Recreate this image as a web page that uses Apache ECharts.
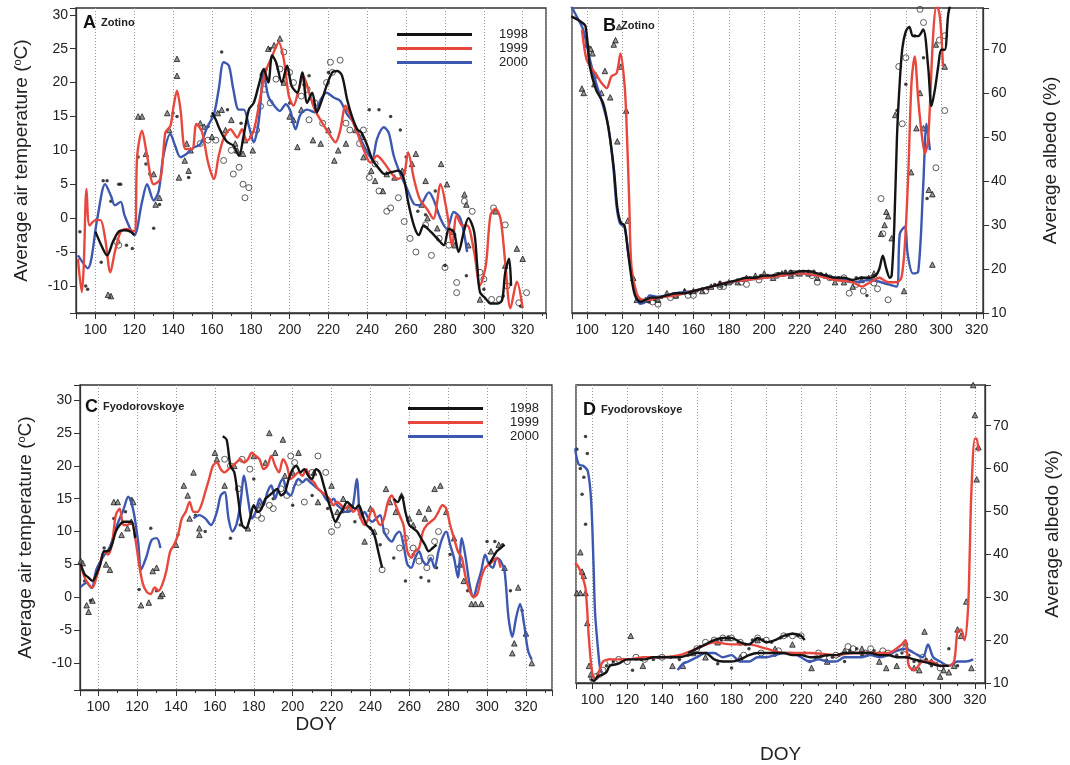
<!DOCTYPE html>
<html><head><meta charset="utf-8">
<script src="https://cdn.jsdelivr.net/npm/echarts@6/dist/echarts.min.js"></script>
<style>html,body{margin:0;padding:0;background:#fff}#chart{width:1070px;height:765px}</style>
</head><body><div id="chart"></div>
<script>
const years = ['1998', '1999', '2000'];
const yearColors = ['#141414', '#e8473d', '#3d58b0'];

// Panel A: Zotino air temperature (DOY, deg C)
const aLine1998 = [[100,-2],[103,-4],[106,-5.5],[109,-3.5],[112,-2],[115,-1.8],[118,-2],[120,-2.5],[121,null],[160,15.6],[162,14.5],[164,13.1],[166,12],[168,11.2],[171,10.7],[174,9.2],[176,11.7],[179,16],[181.5,17],[184,19.5],[186.7,22],[189,20],[191,24],[193,23],[196,20],[198.7,22.5],[201,19.5],[204,18.5],[206.5,21.5],[209,17],[211.6,18.5],[214,15.6],[216.7,17.5],[219,19.5],[222,21.5],[224.5,21.7],[227,21],[229.6,17.5],[232,15.1],[234.8,13.1],[237,12.6],[240,10.7],[242.5,8.7],[246,7.3],[249,6.5],[252.6,6.8],[256,7],[258.8,5.8],[261,2.4],[264,-1.1],[266.5,-2.5],[269,-1.1],[272.6,-2],[276,-3],[279.4,-4],[282,-1.6],[284.5,-2],[287,-5],[289.7,-2],[292,0],[295,-2],[296.6,-7],[298,-10.9],[301,-11.9],[303.4,-12.6],[306.9,-12.6],[309.4,-12.1],[311,-8],[313,-6],[314,-10]];
const aLine1999 = [[91,-6],[93,-10.9],[94,-7],[95.4,4.3],[97,-1.1],[100,-0.3],[102.6,-0.3],[105,-3],[107.7,-8],[110,-5],[113,-2],[116,-1.6],[120,-2],[121.5,9.2],[124,12.9],[126.6,9.2],[130,5],[133.5,5.8],[136,12.6],[138.6,13.6],[140.3,16.6],[142,18.8],[143.8,16],[146.4,10.2],[149.8,10.2],[152,13.9],[155,12.6],[158,8.2],[161,5.8],[163.5,9.2],[166,11.7],[169.5,13.1],[173,11.9],[175.5,13.1],[178,11.4],[181.5,12.9],[185,18],[187.5,21.5],[191,23.9],[194.4,25.9],[197,23.4],[199.6,18],[202,16.6],[204.7,19],[207,21],[210,18.5],[213,16],[216.7,14.1],[220,12.6],[223.6,11.2],[226,12.9],[228.8,16.6],[231,15.3],[234.8,12.6],[238,10.2],[241.6,8.2],[245,9.2],[248.5,8.2],[252,6.8],[255.4,5.8],[258.8,6.3],[261,9.7],[264,5.8],[267,2.8],[270.8,1.3],[274,-0.1],[277.7,5],[281,0.9],[283.7,-4],[286,0.4],[288.8,-1.1],[291.4,-1.1],[295,-5],[298,-9.9],[301,-7],[303.4,0.4],[306,1.4],[308.6,-0.1],[311,-6.5],[313.7,-13.3],[317,-9.4],[320,-13.3]];
const aLine2000 = [[91,-5.5],[96,-7.4],[101,0],[105,5],[108,3.3],[110,1.9],[113,2.4],[115,0.4],[120,-2.5],[124,2.4],[126.6,5],[130,2.6],[132.6,4],[135,9.2],[138.6,12.4],[141,10.7],[143.8,9],[147,9.5],[150.6,10.4],[154,10.9],[157.5,13.4],[161,15.3],[163.5,19],[166,23],[168.7,22.5],[171,19],[173.8,16],[176.4,16],[179,13.6],[181.5,11.2],[184,14.1],[186.7,21.2],[189,18],[192,16.6],[195,15.8],[198,16.8],[200.4,15.8],[203,13.1],[205.6,15.3],[209,16],[213,15.6],[216,17.5],[219,18.5],[222.7,17.8],[226,17.3],[229.6,15.3],[233,14.1],[236.5,11.7],[240,9.7],[242.5,8.7],[245,11.7],[248.5,13.4],[251,12.6],[253.6,9.2],[257,6.5],[260.5,4.3],[264,2.1],[267,1.9],[271.7,3.8],[274,2.8],[277.7,-0.1],[281,-1.6],[284.5,0.9],[288,-0.1],[291.4,-5]];
const aTri = [[108,-11.5],[106.5,-11.3],[122,15],[124,15],[126,9.5],[133,3],[131,2],[130,6.5],[137,15.5],[138,13],[142,23.5],[142,21],[143,6],[146,8.5],[147,11],[148,7],[149,10],[154,14],[156,13.5],[160,12],[163,15.5],[165,16],[167,13],[170,14.5],[172,11],[173,10],[176,9.5],[177,11.5],[181,10],[186,21.5],[189,25],[192,25.5],[195,26.5],[197,20],[200,15],[202,14.5],[204,10.5],[206,16],[208,20],[212,11.5],[216,11],[220,13],[223,8.5],[225,10],[229,11],[234,13],[237,12],[238,9],[242,7],[244,5.5],[248,4],[250,6.5],[254,6],[258,7],[263,8],[265,9.5],[268,2],[270,5.5],[271,0],[276,-1.5],[278,8],[281,5],[284,-2],[285,-4],[290,3.5],[291,2],[292,-4],[298,-12],[306,1],[311,-7],[320,-6],[317,-4.5]];
const aCirc = [[112,-4],[111,-3.5],[154,11],[158,11.5],[162,11.5],[166,8.5],[170,10],[171,6.5],[174,7.5],[176,5],[177,3],[179,4.5],[183,13],[185,16.5],[187,19],[190,17],[193,20.5],[195,22],[197,24.5],[200,21.5],[202,20],[206,18],[209,19],[210,14.5],[213,17],[217,14],[219,20],[221,23],[222,21.5],[226,23.3],[229,14],[231,13],[236,11],[238,13],[241,6],[244,8],[246,4],[250,1],[252,1.5],[256,3],[259,-0.5],[262,-3],[265,-5],[270,-1],[273,-5.5],[277,-3],[280,-7.3],[282,-4],[286,-11],[286,-9.5],[290,2.5],[294,1],[298,-8],[300,-9],[304,-12],[308,-12],[311,-1],[312,-10],[318,-12.5],[322,-11],[305,1.5]];
const aDot = [[92,-2],[95,-10],[96,-10.5],[103,-6.5],[104,5.5],[106,5.5],[108,2.5],[112,5],[113,5],[116,-4],[119,-4.5],[122,9],[126,8],[128,6.5],[130,-1.5],[133,2],[140,15.5],[142,15],[148,6],[158,13.5],[160,15],[165,24.5],[168,16],[175,14],[180,12],[188,22],[190,25],[200,17],[210,21],[220,21.5],[230,16],[241,16],[246,16],[252,15],[257,13],[260,9],[266,1],[270,0.5],[275,4],[280,-7],[285,-2.5],[291,-8.5],[300,-10.5],[310,-11.5],[319,-13]];

// Panel B: Zotino albedo (DOY, %)
const bLine1998 = [[91,77.4],[96,76.3],[99,75.2],[101.5,66],[105,60.7],[109,57.7],[112,52],[115,43],[117,34],[119,30.5],[121,30],[123,24],[125,18],[127,14],[130,12.5],[133,13],[136,13.5],[140,13.5],[145,14],[150,14.5],[155,14.5],[160,15],[165,15.5],[170,16],[175,16.5],[180,17],[185,17.5],[190,18],[195,18],[200,18.5],[205,18.5],[210,19],[215,19],[220,19.5],[225,19.5],[230,19],[235,18.5],[240,18],[245,18],[250,17.5],[255,18],[260,18],[263,18.5],[265,20],[267,23],[269,20],[271,18],[272,18.5],[273.5,30],[275,50],[276.5,62],[278,70],[280,74],[282,75],[284,72.9],[287,72.9],[289.8,74.4],[292.6,66],[294.5,57],[296.4,60.7],[298.3,66],[300,69.8],[302,69.8],[304,78],[306,81]];
const bLine1999 = [[97,74.4],[99.6,67.6],[102.4,65.7],[105,64.2],[108,62.3],[111,61.1],[113.7,63.8],[116.6,64.5],[118.8,69],[121,62.3],[122,55.4],[123.7,35.7],[125,20.5],[128,14.4],[131,13],[135,13],[140,13.5],[150,14],[160,15],[170,16],[180,17],[190,17.5],[200,18],[210,18.5],[220,19],[230,18.5],[240,17.5],[250,17],[255,16],[260,17],[265,18],[270,17],[275,17],[277.6,18.2],[279.5,25.8],[281.4,41.8],[283.2,62.3],[285,68.3],[287,58.5],[288.9,50.9],[290.8,46.3],[292.6,49.4],[295.5,73.6],[297.4,80],[299,78],[300,73.6],[301,66]];
const bLine2000 = [[91,79.7],[94,77.4],[97.7,74.4],[101.5,67.6],[105,62.3],[109,57],[111.9,52.4],[114.7,43.3],[116.6,34.2],[118.5,30.4],[121,29.6],[123,24.3],[125,19],[127,14.4],[129.8,12.1],[132.6,12.5],[135.4,14],[139,13.7],[145,14],[150,14.5],[160,15],[170,16],[180,17],[190,17.5],[200,18],[210,18.5],[220,19],[230,18.5],[240,18],[250,17],[260,17.5],[270,16.5],[274.8,16],[276.6,28],[279.5,29.6],[281,23.5],[284,19],[287,19.4],[289.8,38.7],[291.7,53],[293.6,47]];
const bTri = [[97,61],[98,60],[100,71],[102,70],[103,69],[104,62],[105,64],[108,60],[110,65],[113,59],[115,71],[116,72],[118,75],[119,66],[117,49],[122,56],[123,31],[126,18],[128,13],[133,13],[140,13],[150,14],[160,15],[170,16],[180,17],[190,18],[200,19],[210,19],[220,19],[230,18],[240,17],[250,16],[259,18],[262,19],[266,28],[268,30],[269,33],[270,32],[272,27],[274,55],[279,15],[283,42],[286,52],[288,60],[290,52],[293,38],[295,37],[295,21],[297,71],[302,66],[135,13.5],[145,14.5],[155,15],[165,15],[175,16.5],[185,17],[195,18.5],[205,18],[215,18.5],[225,19],[235,18.5],[245,17],[255,17.5]];
const bCirc = [[248,14.5],[256,15],[262,16.8],[264,15.5],[266,36],[267,28],[270,13],[276,66],[278,53],[280,68],[285,80],[288,79],[290,76],[297,43],[299,72],[302,56],[302,73],[306,80],[140,12],[150,14],[160,14],[175,16],[190,16.5],[215,19],[230,17],[245,18],[137,12.5],[147,13.5],[157,14],[167,15],[177,16],[187,17],[197,17.5],[207,18.5],[217,19],[227,18.5],[237,18],[252,16.5]];
const bDot = [[120,30],[130,13],[135,12.5],[145,14],[155,15],[165,15.5],[175,17],[185,17.5],[195,18],[205,18.5],[215,19.5],[225,19.5],[235,18.5],[245,17.5],[255,18],[258,14],[275,56],[280,62],[285,73],[290,68],[292,36],[132,12.5],[138,13],[142,13.5],[148,14],[152,14.5],[158,14.5],[162,15],[168,15.5],[172,16.5],[178,16.5],[182,17],[188,17.5],[192,18],[198,18.5],[202,18.5],[208,19],[212,19.5],[218,19],[222,19.5],[228,19.5],[232,19],[238,18],[242,18],[248,17.5],[252,18],[262,18.5]];

// Panel C: Fyodorovskoye air temperature (DOY, deg C)
const cLine1998 = [[91,5],[93,3.5],[95,3],[97,2.5],[99,3.5],[101,5],[103,7],[105,7],[107,8],[109,10],[111,11],[113,11.5],[115,11.5],[117,11.5],[119,9],[120,null],[164,24.5],[166,24],[168,20],[170,19],[172,15],[174,11],[176,10.5],[178,12],[180,14],[182,13],[184,13.5],[186,15],[188,15.5],[190,16],[192,16.5],[194,15.5],[196,16],[198,18],[200,19.5],[202,20],[204,19],[206,19.5],[208,18.5],[210,18],[212,19.5],[214,19],[216,17],[218,15],[220,13],[222,11.5],[224,12.5],[226,13.5],[228,14.5],[230,14],[232,13.5],[234,14],[236,12.5],[238,11],[240,10.5],[242,9.5],[244,7],[246,4.5],[248,null],[252,15],[254,14.5],[256,15.5],[258,13],[260,11],[262,10.5],[264,10],[266,9],[268,8],[270,7],[272,7.5],[274,8],[276,null],[301,5],[303,6],[305,7],[307,7.5],[309,8]];
const cLine1999 = [[91,5],[93,3],[95,2],[97,1.5],[99,3],[101,5],[103,7],[105,6.5],[107,8],[109,12.5],[111,13.5],[113,11],[115,11],[117,11.5],[119,9],[121,5],[123,2],[125,0.8],[127,0.5],[129,1.5],[131,1],[133,2],[135,4],[137,7],[139,8],[141,9.5],[143,12],[145,13],[147,14.5],[149,13],[151,13],[153,14],[155,16],[157,18],[159,20],[161,20.5],[163,19.5],[165,19],[167,19.5],[169,20],[171,20.5],[173,21],[175,20.5],[177,21],[179,22],[181,21.5],[183,21],[185,19.5],[187,20],[189,21.5],[191,20],[193,19],[195,21],[197,20],[199,18],[201,18.5],[203,19],[205,18.5],[207,19.5],[209,18],[211,17.5],[213,16.5],[215,16],[217,15.5],[219,15],[221,14],[223,14.5],[225,14],[227,13.5],[229,14],[231,13],[233,13.5],[235,12],[237,11],[239,12],[241,13.5],[243,12],[245,11],[247,12],[249,14.5],[251,15.5],[253,14],[255,12.5],[257,11],[259,7],[261,6],[263,7],[265,7.5],[267,10],[269,11],[271,11.5],[273,12],[275,13],[277,14],[279,13.5],[281,11],[283,9],[285,7],[287,6],[289,3],[291,1],[293,0],[295,0.5],[297,3],[299,4.5],[301,5],[303,5.5],[305,6],[307,4.5]];
const cLine2000 = [[91,1.6],[94,2.2],[96.6,1.4],[99,4.2],[102.6,6.2],[106,7.7],[109.4,10.8],[112.9,13.3],[115.4,15.3],[118,13.3],[120.6,8.2],[122,4.2],[124.8,6.2],[127.4,8.7],[130,9],[132,7.5],[133,null],[149,12],[152,12.5],[155,12],[158,11],[161,13],[163,15.5],[165,16],[167,12],[169,10],[171,11],[173,14],[175,18.5],[177,15],[179,12],[181,13],[183,15],[185,14],[187,16],[189,17],[191,15],[193,17],[195,18],[197,16],[199,15.5],[201,17],[203,18],[205,17.5],[207,18],[209,17.5],[211,17],[213,16.5],[215,16],[217,15],[219,14.5],[221,15],[223,14],[225,13.5],[227,13],[229,13],[231,14],[233,18],[235,12],[237,13],[239,12],[241,11.5],[243,12],[245,12.5],[247,10],[249,9],[251,8.5],[253,9.5],[255,10],[257,8],[259,5],[261,4.5],[263,6],[265,7],[267,5.5],[269,5],[271,6],[273,4.5],[275,7],[277,9],[279,10],[281,8],[283,6],[285,3],[287,9],[289,6],[291,2],[293,0],[295,2],[297,4],[299,6.5],[301,5],[303,4.5],[305,6],[307,5.5],[309,4],[311,-3],[313,-6],[315,-3],[317,-1],[319,-4],[321,-8],[323,-9.5]];
const cTri = [[91,5.5],[92,5.2],[94,-1.2],[95,-2.2],[97,-0.5],[104,5],[106,4.2],[108,14.5],[110,14.5],[112,9.5],[115,10.5],[117,11.5],[118,14.5],[122,-1.2],[126,-0.8],[128,4],[130,4.5],[132,0.2],[133,0.5],[140,8],[144,17],[146,15.5],[147,12],[149,19],[152,9.5],[152,10.5],[160,22],[161,21],[165,17],[170,20],[177,10.5],[180,21.5],[183,14],[186,20.5],[188,25],[191,22],[195,24],[196,18.5],[200,19],[203,22],[211,19],[213,14.5],[220,17],[223,13],[226,15],[229,13.5],[235,13],[237,8.5],[240,13.5],[242,10],[248,16.5],[250,14.5],[253,13],[256,15.5],[260,12],[262,11],[265,13],[268,12],[270,13.5],[273,16.5],[276,17],[279,13],[283,9],[286,5],[288,2.5],[292,-1],[294,-1],[297,-1],[302,7],[306,8],[309,4.5],[313,-8.5],[314,-7],[316,1.5],[320,-5.5],[323,-10]];
const cCirc = [[165,21],[168,20],[172,16.5],[174,21],[178,19.5],[182,12.5],[184,12],[188,14],[190,13.5],[194,16.5],[197,15.5],[199,21.5],[201,20.5],[203,17.5],[206,14.5],[210,19],[213,21.5],[217,19],[220,10],[223,11],[246,4.2],[248,10],[255,7.5],[258,9],[262,7.5],[265,5.5],[269,4.5],[271,6],[273,8.5],[275,10]];
const cDot = [[93,2.5],[96,-0.5],[103,7.5],[108,12],[114,13],[117,15],[121,1.2],[127,10.5],[130,1],[141,9.5],[150,12.5],[155,10],[168,9],[173,11],[180,18],[190,15],[200,14],[210,15.5],[218,13.5],[226,13],[232,11.5],[240,10.5],[245,8],[252,6],[258,2.5],[262,6.5],[266,3],[270,2.5],[274,4.5],[281,6.5],[290,1],[300,8.5],[304,8.5],[308,8],[312,1],[318,-2]];

// Panel D: Fyodorovskoye albedo (DOY, %)
const dLine1998 = [[99,11],[101,10.5],[103,11.5],[106,12],[108,12.5],[110,14],[115,14.5],[120,15.5],[125,15.5],[130,15.5],[135,16],[140,16],[145,16],[150,16],[155,16.5],[160,17],[165,17],[170,15.5],[175,15],[180,15],[185,15.5],[190,16.5],[195,17],[200,17],[205,17],[210,17],[215,16.5],[220,16.5],[225,16],[230,16],[235,16.5],[240,16.5],[245,17],[250,17],[255,17],[260,17],[265,16.5],[270,16.5],[275,16],[280,16],[285,15.5],[290,15],[295,14.5],[300,14],[305,14]];
const dLine1998b = [[155,17],[160,18],[165,19],[170,20],[175,20.5],[180,20.5],[185,19.5],[190,19],[195,20.5],[200,19.5],[205,20],[210,21],[215,21.5],[220,21],[222,20]];
const dLine1999 = [[90,38],[92,37],[94,35],[96,32],[98,20],[100,12],[102,11],[104,13],[106,15],[110,15.5],[120,15.5],[130,16],[140,16],[150,16.5],[160,18],[170,19.5],[180,19],[190,19],[200,18],[210,17],[220,17],[225,17],[240,16.5],[250,17],[260,17],[270,17],[278,19],[280,20],[282,14],[285,13],[290,15],[295,15],[300,14],[305,14],[308,15],[310,22],[312,22.5],[314,20],[316,27],[317,40],[318,55],[320,67],[321,67],[322,64]];
const dLine2000 = [[90,64.7],[92,61],[94.8,60.6],[97.3,59.4],[99.2,52.6],[100.6,37.5],[101.5,26.2],[103.5,16.4],[104.4,13.4],[105.5,12.5],[106,null],[149,13],[152,14.5],[155,15],[160,16],[165,17],[170,17],[175,16],[180,16.5],[185,15],[190,15],[195,16],[200,16],[205,16.5],[210,17],[215,17],[220,16],[225,15],[230,15.5],[235,15],[240,15],[245,16],[250,16],[255,16],[260,16.5],[265,16],[270,16.5],[275,17.5],[280,18],[285,17],[290,16],[293,19],[296,16],[300,15],[305,14],[310,15],[315,15],[319,15.5]];
const dTri = [[90,36],[91,31],[93,31],[93,40.5],[94,36],[95,35],[96,31],[97,24],[98,14],[99,12],[122,21],[129,14],[146,14],[152,14],[158,17],[165,16],[172,19.5],[178,20.5],[185,16],[195,20],[205,18],[215,19],[226,13.5],[235,15],[245,17.5],[255,18],[265,15],[269,13.5],[275,14],[280,19.5],[285,13.5],[288,13],[291,22],[295,15],[300,11.5],[302,13],[305,12.5],[308,14],[310,22.5],[312,21],[315,29],[318,13.5],[319,79.5],[320,72.5],[321,57.5],[322,65]];
const dCirc = [[100,11],[102,11.5],[104,12],[106,13],[110,15],[115,15.5],[120,15],[125,16],[130,15.5],[140,16],[160,18],[165,19.5],[170,20],[175,20.5],[180,20.5],[185,19.5],[195,20.5],[200,20],[210,21],[215,21],[220,21],[230,17],[240,16.5],[250,18],[260,18],[270,17],[280,18],[290,16],[300,13.5],[187,16.5],[197,17],[207,17.5],[233,16],[247,18.5],[257,17],[267,17.5]];
const dDot = [[90,65],[91,64.5],[93,60],[95,58],[96,67.5],[97,63.5],[94,54],[96,47],[123,13],[135,15.5],[172,14.5],[180,13.5],[150,15.5],[190,18],[205,16.5],[225,15],[235,16.5],[245,15],[255,16.5],[265,17],[275,16.5],[285,15],[295,14],[305,18],[310,14],[108,14],[112,15],[118,15.5],[128,15.5],[138,16],[145,16],[155,16.5],[162,18.5],[168,19.5],[174,20],[178,20.5],[184,19.5],[188,19],[192,20],[198,20],[203,19.5],[208,20.5],[212,21],[218,21],[222,17],[228,16],[232,16.5],[238,16],[242,16.5],[248,17.5],[252,18],[258,17],[262,17.5],[268,17],[272,17],[278,17],[282,16.5],[288,15],[292,15.5],[298,14.5],[302,14]];

const FONT = 'Liberation Sans, Arial, Helvetica, sans-serif';
const grids = [
  {left: 76, top: 8, width: 470, height: 305},
  {left: 572, top: 8, width: 411, height: 305},
  {left: 80, top: 385, width: 472, height: 305},
  {left: 576, top: 385, width: 409, height: 305}
];
const xRanges = [[90, 332], [91.4, 323.6], [90.6, 333.4], [90.5, 325.8]];
const yRanges = [[-14, 31], [10, 79.3], [-14.1, 32.3], [10, 79.5]];

const xAxes = grids.map((g, i) => ({
  type: 'value', gridIndex: i, min: xRanges[i][0], max: xRanges[i][1], splitNumber: 12,
  axisLine: {show: true, onZero: false, lineStyle: {color: '#333', width: 1.3}},
  axisTick: {show: true, length: 6, lineStyle: {color: '#333'}},
  minorTick: {show: true, splitNumber: 2, length: 3, lineStyle: {color: '#333'}},
  splitLine: {show: true, lineStyle: {color: '#999', type: [1, 2], width: 1}},
  axisLabel: {fontFamily: FONT, fontSize: 14, color: '#222', margin: 10,
    formatter: v => (Math.abs(v % 20) < 1e-6 ? String(v) : '')},
  name: (i === 2 || i === 3) ? 'DOY' : '',
  nameLocation: 'middle', nameGap: i === 3 ? 62 : 18,
  nameTextStyle: {fontFamily: FONT, fontSize: 19, color: '#222'}
}));

const tempName = 'Average air temperature ({o|o}C)';
const yAxes = grids.map((g, i) => {
  const isTemp = (i === 0 || i === 2);
  const ax = {
    type: 'value', gridIndex: i, min: yRanges[i][0], max: yRanges[i][1],
    position: isTemp ? 'left' : 'right',
    axisLine: {show: true, onZero: false, lineStyle: {color: '#333', width: 1.3}},
    axisTick: {show: true, length: 6, lineStyle: {color: '#333'}},
    splitLine: {show: false},
    axisLabel: {fontFamily: FONT, fontSize: 14, color: '#222', margin: 8,
      formatter: isTemp ? (v => (Math.abs(v % 5) < 1e-6 ? String(v) : ''))
                        : (v => (Math.abs(v % 10) < 1e-6 ? String(v) : ''))},
    name: isTemp ? tempName : 'Average albedo (%)',
    nameLocation: 'middle', nameRotate: 90, nameGap: isTemp ? 45 : 58,
    nameTextStyle: {fontFamily: FONT, fontSize: 19, color: '#222',
      rich: {o: {fontFamily: FONT, fontSize: 11, color: '#222', verticalAlign: 'top', lineHeight: 11}}}
  };
  if (isTemp) ax.splitNumber = 9; else ax.interval = 10;
  return ax;
});

const lineSets = [
  [aLine1998, aLine1999, aLine2000],
  [bLine1998, bLine1999, bLine2000],
  [cLine1998, cLine1999, cLine2000],
  [dLine1998, dLine1999, dLine2000]
];
const markerSets = [
  [aTri, aCirc, aDot], [bTri, bCirc, bDot], [cTri, cCirc, cDot], [dTri, dCirc, dDot]
];

const series = [];
markerSets.forEach((ms, p) => {
  series.push({name: 'tri' + p, type: 'scatter', xAxisIndex: p, yAxisIndex: p, data: ms[0],
    symbol: 'triangle', symbolSize: 5.5, z: 4,
    itemStyle: {color: '#7a7a7a', borderColor: '#1a1a1a', borderWidth: 1}});
  series.push({name: 'circ' + p, type: 'scatter', xAxisIndex: p, yAxisIndex: p, data: ms[1],
    symbol: 'circle', symbolSize: 6, z: 4,
    itemStyle: {color: 'rgba(255,255,255,0)', borderColor: '#333', borderWidth: 1}});
  series.push({name: 'dot' + p, type: 'scatter', xAxisIndex: p, yAxisIndex: p, data: ms[2],
    symbol: 'circle', symbolSize: 3.5, z: 4, itemStyle: {color: '#111'}});
});
lineSets.forEach((ls, p) => {
  [2, 1, 0].forEach(k => {
    series.push({name: years[k], type: 'line', xAxisIndex: p, yAxisIndex: p, data: ls[k],
      color: yearColors[k], smooth: 0.3, showSymbol: false, connectNulls: false,
      lineStyle: {width: 2.4, color: yearColors[k]}, z: 5});
  });
});
series.push({name: '1998', type: 'line', xAxisIndex: 3, yAxisIndex: 3, data: dLine1998b,
  color: yearColors[0], smooth: 0.3, showSymbol: false, lineStyle: {width: 2.4, color: yearColors[0]}, z: 5});

const panelTitles = [
  {l: 'A', s: 'Zotino', left: 78, top: 9},
  {l: 'B', s: 'Zotino', left: 598, top: 12},
  {l: 'C', s: 'Fyodorovskoye', left: 80, top: 393},
  {l: 'D', s: 'Fyodorovskoye', left: 578, top: 396}
];
const titles = panelTitles.map(t => ({
  text: '{b|' + t.l + '} {s|' + t.s + '}', left: t.left, top: t.top,
  textStyle: {rich: {
    b: {fontFamily: FONT, fontSize: 18, color: '#111'},
    s: {fontFamily: FONT, fontSize: 11, fontWeight: 'bold', color: '#222'}
  }}
}));

const legendBase = {
  orient: 'vertical', data: years, icon: 'rect', itemWidth: 75, itemHeight: 3, itemGap: 1,
  selectedMode: false, textStyle: {fontFamily: FONT, fontSize: 13, color: '#222', padding: [0, 0, 0, 22]}
};

const option = {
  animation: false,
  backgroundColor: '#fff',
  title: titles,
  legend: [
    Object.assign({}, legendBase, {left: 392, top: 23}),
    Object.assign({}, legendBase, {left: 403, top: 397})
  ],
  grid: grids.map(g => Object.assign({show: true, borderColor: '#333', borderWidth: 1.3, backgroundColor: 'transparent'}, g)),
  xAxis: xAxes,
  yAxis: yAxes,
  series: series
};
const chart = echarts.init(document.getElementById('chart'), null, {renderer: 'canvas'});
chart.setOption(option);
</script></body></html>
